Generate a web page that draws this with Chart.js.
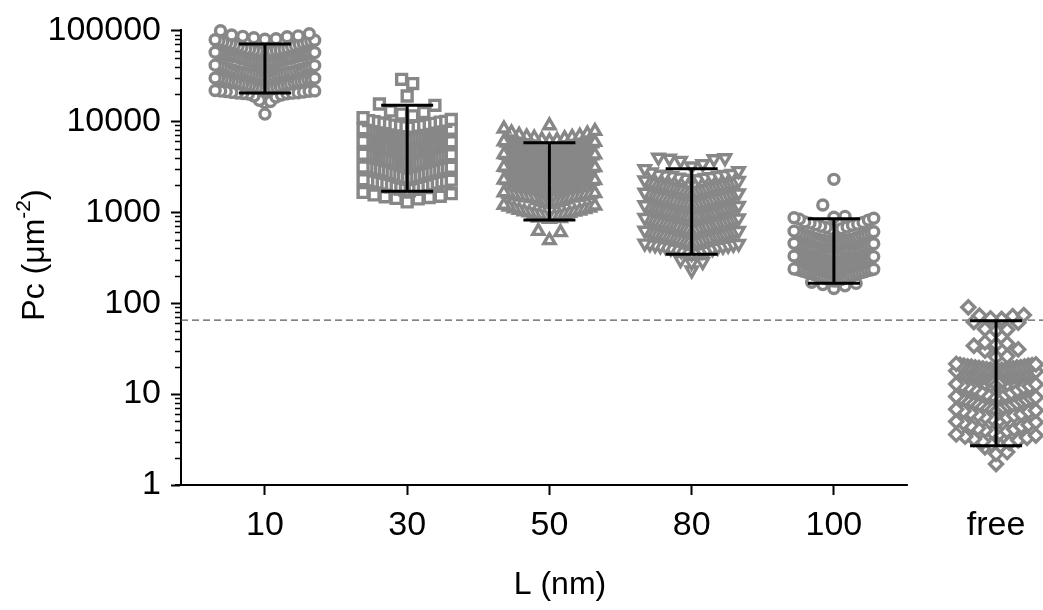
<!DOCTYPE html>
<html>
<head>
<meta charset="utf-8">
<title>Pc vs L</title>
<script src="https://cdn.jsdelivr.net/npm/chart.js@4.4.1/dist/chart.umd.min.js"></script>
<style>
    html, body { margin: 0; padding: 0; background: #fff; }
    canvas { display: block; }
</style>
</head>
<body>
<canvas id="chart" width="1043" height="610"></canvas>
<script>
"use strict";

// categories on the x axis ("free" sits a bit apart, past the axis break)
var categories = ['10', '30', '50', '80', '100', 'free'];
var categoryX = [0, 1, 2, 3, 4, 5.14];

// Pc values (um^-2), one list per group
var pc10 = [99000, 92000, 89000, 87000, 86000, 85000, 83000,
    81000, 80000, 78000, 77000, 76000, 74000, 73000, 72000, 70000, 69000, 68000, 66000, 65000, 64000,
    62000, 61000, 60000, 59000, 58500, 58000, 57000, 56000, 55500, 55000, 54000, 53000, 52500, 52000, 51000, 50500,
    49500, 48500, 48000, 47000, 46000, 45500, 45000, 44000, 43000, 42500, 42000, 41000, 40000, 39500, 39000, 38500,
    37500, 37000, 36000, 35500, 35000, 34500, 34000, 33500, 33000, 32500, 32000, 31500, 31000, 30500, 30000,
    29500, 29000, 28500, 28000, 27500, 27000, 26500, 26000, 25500, 25000, 24500, 24000, 23500, 23000,
    22500, 22000, 21800, 21500, 21200, 21000, 20800, 20500, 20200, 20000, 19500, 19000, 18500,
    17000, 16500, 16000, 12000,
    79000, 75000, 71000, 67000, 63000, 60500, 59500, 57500, 56500, 54500, 53500, 51500, 49000, 47500,
    46500, 44500, 43500, 41500, 40500, 38000, 36500, 34800, 33800, 32800, 31800, 30800, 29800, 28800,
    27800, 26800, 25800, 24800, 23800, 22800, 22200, 21600, 21400, 20600, 20400, 20100,
    62500, 58800, 55200, 51800, 48800, 45800, 42800, 39800, 37200, 35200, 33200, 31200, 29200, 27200,
    25200, 23200];

var pc30 = [29000, 26000, 19000, 15500, 15000,
    13000, 12500, 12000, 11500, 11000, 10500,
    10200, 10000, 9800, 9600, 9400, 9200, 9000, 8800, 8600, 8400, 8200, 8000,
    7900, 7700, 7600, 7400, 7300, 7100, 7000, 6900, 6800, 6700, 6600, 6500, 6400, 6300,
    6200, 6100, 6000, 5900, 5800, 5700, 5600, 5500, 5400, 5300, 5200, 5100, 5000, 4900, 4800,
    4750, 4700, 4600, 4500, 4450, 4400, 4300, 4200, 4150, 4100, 4000, 3950, 3900, 3800, 3750,
    3650, 3600, 3550, 3500, 3400, 3350, 3300, 3250, 3200, 3100, 3050, 3000, 2950, 2900,
    2850, 2800, 2700, 2650, 2600, 2500, 2450, 2400, 2350, 2300, 2250, 2200,
    2150, 2100, 2050, 2000, 1950, 1900, 1850, 1800, 1780, 1750, 1720,
    1650, 1600, 1550, 1500, 1480, 1450, 1420, 1400, 1300,
    9900, 9500, 9100, 8700, 8300, 7800, 7500, 7200, 6950, 6750, 6550, 6350, 6150, 5950, 5750,
    5550, 5350, 5150, 4950, 4650, 4550, 4350, 4250, 4050, 3850, 3700, 3450, 3150, 2750, 2550,
    2150, 1980, 1880, 1820,
    8900, 8100, 7650, 7050, 6450, 5850, 5450, 5050, 4850, 4480, 4180, 3920, 3680, 3420, 3280,
    3120, 2980, 2880, 2680, 2480, 2380, 2280, 2180, 2080];

var pc50 = [9000, 8300,
    7800, 7500, 7300, 7100, 6900, 6700, 6500, 6300,
    6100, 6000, 5800, 5700, 5600, 5500, 5400, 5300, 5200, 5100, 5000, 4950, 4900, 4850,
    4750, 4700, 4600, 4550, 4500, 4400, 4300, 4250, 4200, 4100, 4050, 4000, 3900, 3850, 3800, 3750,
    3650, 3600, 3550, 3500, 3450, 3400, 3300, 3250, 3200, 3150, 3100, 3050, 3000, 2980, 2950, 2900,
    2850, 2800, 2750, 2700, 2650, 2600, 2550, 2500, 2450, 2400, 2350, 2300, 2280, 2250, 2200,
    2150, 2100, 2050, 2000, 1980, 1950, 1900, 1870, 1850, 1820, 1800, 1780, 1760,
    1700, 1650, 1600, 1580, 1550, 1520, 1500, 1470, 1450, 1420, 1380,
    1330, 1300, 1250, 1220, 1200, 1150, 1120, 1100, 1060,
    1040, 1010, 980, 960, 940, 920, 900, 880, 860, 840,
    620, 600, 490,
    6800, 6600, 6200, 5900, 5650, 5450, 5250, 5050, 4800, 4650, 4450, 4350, 4150, 3950, 3700,
    3520, 3380, 3220, 3080, 2920, 2880, 2780, 2680, 2580, 2480, 2380, 2320, 2180, 2080, 2020,
    1920, 1880, 1830, 1720, 1680, 1620, 1560, 1480, 1440, 1350, 1280, 1180, 1080, 1020, 990,
    950, 910, 870,
    4620, 4380, 4180, 3980, 3760, 3580, 3420, 3280, 3120, 2820, 2620, 2420, 2240, 2120];

var pc80 = [4000, 3950, 3900, 3850, 3700, 3400,
    3200, 3000, 2850, 2750, 2650, 2600,
    2550, 2500, 2450, 2400, 2350, 2300, 2250, 2200, 2150, 2100, 2080, 2050, 2020, 2000,
    1980, 1950, 1900, 1870, 1850, 1820, 1800, 1750, 1720, 1700, 1680, 1650, 1620, 1600, 1580, 1560,
    1540, 1500, 1480, 1450, 1420, 1400, 1380, 1350, 1330, 1300, 1280, 1260, 1250, 1230, 1210, 1200,
    1180, 1160, 1140, 1120, 1100, 1080, 1060, 1040, 1020, 1000, 990, 980, 970, 960, 950, 940,
    920, 900, 880, 860, 850, 830, 820, 800, 790, 780, 770, 760, 750, 740, 730,
    710, 700, 690, 680, 660, 650, 640, 630, 620, 610, 600, 590, 580, 570, 565,
    555, 545, 540, 530, 520, 510, 500, 490, 480, 470, 465, 460, 450, 445,
    435, 425, 420, 410, 400, 390, 380, 370, 360, 350,
    300, 285, 280, 230,
    2580, 2520, 2420, 2320, 2220, 2120, 2060, 1960, 1920, 1880, 1780, 1740, 1660, 1610, 1520,
    1460, 1430, 1360, 1320, 1290, 1240, 1170, 1150, 1130, 1090, 1050, 1010, 985, 945, 910,
    890, 870, 840, 810, 775, 745, 720, 695, 670, 645, 625, 605, 585, 560, 535,
    515, 495, 475, 455, 440, 430, 415, 395, 375, 355];

var pc100 = [2300, 1200,
    900, 880, 870, 860, 840, 820,
    780, 760, 740, 720, 700, 680, 660, 640, 620, 610,
    595, 580, 570, 560, 550, 540, 530, 520, 510, 500, 495, 490, 485, 480, 475, 470,
    465, 455, 450, 440, 430, 420, 415, 410, 400, 395, 390, 385, 380, 375, 370, 368,
    360, 355, 350, 340, 335, 330, 320, 315, 310, 305, 300, 298, 295, 292, 290, 288,
    282, 278, 275, 270, 265, 260, 255, 250, 245, 240, 238, 235, 232, 230, 225, 222,
    218, 215, 212, 208, 205, 200, 195, 192, 190, 185, 180, 178, 175,
    165, 160, 155, 145,
    770, 730, 690, 650, 600, 575, 555, 535, 515, 505, 492, 478, 460, 445,
    435, 425, 405, 392, 382, 372, 358, 345, 325, 312, 302, 296, 289, 280,
    272, 262, 252, 242, 236, 228, 220, 210, 202, 198, 188, 182, 176, 170];

var pcFree = [90, 74, 73, 72, 68, 67, 62, 61, 52, 51, 50, 37, 36, 35, 34, 31, 30, 26, 25.5,
    21.5, 21, 20.8, 20.5, 20.2, 20, 19.8, 19.6, 19.4, 19.2, 19, 18.8, 18.6, 18.5,
    18.2, 18, 17.6, 17.2, 17, 16.8, 16.5, 16.2, 16, 15.8, 15.6, 15.4, 15.2, 15,
    14.5, 14, 13.6, 13.2, 12.8, 12.5, 12.2, 12, 11.8, 11.5,
    11, 10.6, 10.3, 10, 9.8, 9.6, 9.4, 9.2, 9.1, 9,
    8.8, 8.6, 8.4, 8.2, 8, 7.8, 7.6, 7.5, 7.4, 7.2, 7.1, 7,
    6.8, 6.6, 6.4, 6.2, 6, 5.9, 5.8, 5.6, 5.5, 5.4,
    5.2, 5, 4.9, 4.8, 4.6, 4.5, 4.4, 4.2, 4.1,
    4, 3.9, 3.8, 3.7, 3.6, 3.5, 3.4, 3.3, 3.2,
    3.1, 3, 2.9, 2.8, 2.7, 2.6, 2.3, 2.2, 1.7,
    21.2, 20.6, 20.1, 19.7, 19.1, 18.7, 18.3, 17.8, 17.4, 16.9, 16.6, 16.1, 15.5, 15.1,
    13.8, 12.9, 9.7, 8.5, 7.7, 6.5];

// error bars (lower / upper end) per group
var barLow = [20500, 1700, 820, 345, 166, 2.7];
var barHigh = [71000, 15000, 5800, 3000, 850, 64];

// dashed reference level
var thresholdPc = 65;

var yMajorTicks = [1, 10, 100, 1000, 10000, 100000];

var groups = [pc10, pc30, pc50, pc80, pc100, pcFree];

// half width of each swarm, in category units
var swarmHalf = [0.35, 0.31, 0.32, 0.33, 0.28, 0.28];

// prism-like scatter: bin on log(y), spread each row sideways, low values in the middle
function swarm(values, xc, half) {
    var binH = 0.14, step = 0.078;
    var bins = {};
    values.forEach(function (v) {
        var b = Math.floor(Math.log10(v) / binH);
        (bins[b] = bins[b] || []).push(v);
    });
    var pts = [];
    Object.keys(bins).forEach(function (b) {
        var row = bins[b].slice().sort(function (a, c) { return a - c; });
        var n = row.length;
        var s = n > 1 ? Math.min(step, 2 * half / (n - 1)) : 0;
        var slots = [];
        for (var k = 0; k < n; k++)
            slots.push((k - (n - 1) / 2) * s);
        // right slot before left one, so a lone top value lands on the left
        slots.sort(function (a, c) { return (Math.abs(a) - Math.abs(c)) || (c - a); });
        row.forEach(function (v, i) {
            pts.push({x: xc + slots[i], y: v});
        });
    });
    return pts;
}

var markGray = '#878787';
var pointStyles = ['circle', 'rect', 'triangle', 'triangle', 'circle', 'rectRot'];
var pointRot = [0, 0, 0, 180, 0, 0];
var pointSize = [5, 7, 6.5, 6.5, 5, 6.5];

var datasets = [];
for (var i = 0; i < groups.length; i++) {
    datasets.push({
        label: categories[i],
        data: swarm(groups[i], categoryX[i], swarmHalf[i]),
        pointStyle: pointStyles[i],
        rotation: pointRot[i],
        pointRadius: pointSize[i],
        pointHoverRadius: pointSize[i],
        borderWidth: 3.4,
        borderColor: markGray,
        backgroundColor: '#ffffff',
        clip: false
    });
}

var FONT = '"Liberation Sans", Arial, sans-serif';

var decorPlugin = {
    id: 'decor',
    beforeDatasetsDraw: function (chart) {
        var ctx = chart.ctx, area = chart.chartArea;
        var y = chart.scales.y.getPixelForValue(thresholdPc);
        ctx.save();
        ctx.strokeStyle = '#5a5a5a';
        ctx.lineWidth = 1.2;
        ctx.setLineDash([7, 4]);
        ctx.beginPath();
        ctx.moveTo(area.left, y);
        ctx.lineTo(area.right, y);
        ctx.stroke();
        ctx.restore();
    },
    afterDatasetsDraw: function (chart) {
        var ctx = chart.ctx, xs = chart.scales.x, ys = chart.scales.y, area = chart.chartArea;
        ctx.save();
        // error bars
        ctx.strokeStyle = '#000';
        ctx.lineWidth = 3;
        for (var i = 0; i < categoryX.length; i++) {
            var x = xs.getPixelForValue(categoryX[i]);
            var y1 = ys.getPixelForValue(barLow[i]);
            var y2 = ys.getPixelForValue(barHigh[i]);
            ctx.beginPath();
            ctx.moveTo(x, y1); ctx.lineTo(x, y2);
            ctx.moveTo(x - 26, y1); ctx.lineTo(x + 26, y1);
            ctx.moveTo(x - 26, y2); ctx.lineTo(x + 26, y2);
            ctx.stroke();
        }
        // x axis line, broken before "free"
        ctx.lineWidth = 2;
        ctx.beginPath();
        ctx.moveTo(area.left - 6, area.bottom);
        ctx.lineTo(xs.getPixelForValue(categoryX[4] + 0.52), area.bottom);
        ctx.stroke();
        // minor log ticks on y
        ctx.lineWidth = 1.5;
        ctx.beginPath();
        for (var d = 1; d < 100000; d *= 10) {
            for (var m = 2; m < 10; m++) {
                var yy = Math.round(ys.getPixelForValue(d * m)) + 0.5;
                ctx.moveTo(area.left - 6, yy);
                ctx.lineTo(area.left, yy);
            }
        }
        ctx.stroke();
        // axis titles
        ctx.fillStyle = '#000';
        ctx.textBaseline = 'middle';
        ctx.textAlign = 'center';
        ctx.font = '32px ' + FONT;
        ctx.fillText('L (nm)', 560, 585);

        ctx.translate(35, 255);
        ctx.rotate(-Math.PI / 2);
        ctx.textAlign = 'left';
        var t1 = 'Pc (\u03bcm', t2 = '-2', t3 = ')';
        ctx.font = '32px ' + FONT;
        var w1 = ctx.measureText(t1).width, w3 = ctx.measureText(t3).width;
        ctx.font = '21px ' + FONT;
        var w2 = ctx.measureText(t2).width;
        var x0 = -(w1 + w2 + w3) / 2;
        ctx.font = '32px ' + FONT;
        ctx.fillText(t1, x0, 0);
        ctx.font = '21px ' + FONT;
        ctx.fillText(t2, x0 + w1, -11);
        ctx.font = '32px ' + FONT;
        ctx.fillText(t3, x0 + w1 + w2, 0);
        ctx.restore();
    }
};

new Chart(document.getElementById('chart'), {
    type: 'scatter',
    data: {datasets: datasets},
    options: {
        responsive: false,
        animation: false,
        devicePixelRatio: 1,
        layout: {autoPadding: false, padding: {top: 30, right: 0, bottom: 0, left: 0}},
        plugins: {legend: {display: false}, tooltip: {enabled: false}},
        scales: {
            x: {
                type: 'linear',
                min: -0.59,
                max: 5.47,
                afterBuildTicks: function (scale) {
                    scale.ticks = categoryX.map(function (v) { return {value: v}; });
                },
                afterFit: function (scale) { scale.height = 125; },
                border: {display: false},
                grid: {
                    drawOnChartArea: false,
                    tickLength: 10,
                    tickWidth: 2,
                    tickColor: function (c) { return c.index < 5 ? '#000' : 'rgba(0,0,0,0)'; }
                },
                ticks: {
                    autoSkip: false,
                    maxRotation: 0,
                    padding: 10,
                    color: '#000',
                    font: {size: 34, family: FONT},
                    callback: function (v, idx) { return categories[idx]; }
                }
            },
            y: {
                type: 'logarithmic',
                min: 1,
                max: 100000,
                afterBuildTicks: function (scale) {
                    scale.ticks = yMajorTicks.map(function (v) { return {value: v}; });
                },
                afterFit: function (scale) { scale.width = 181; },
                border: {display: true, color: '#000', width: 2},
                grid: {drawOnChartArea: false, tickLength: 10, tickWidth: 2, tickColor: '#000'},
                ticks: {
                    autoSkip: false,
                    padding: 10,
                    color: '#000',
                    font: {size: 34, family: FONT},
                    callback: function (v) { return String(v); }
                }
            }
        }
    },
    plugins: [decorPlugin]
});
</script>
</body>
</html>
